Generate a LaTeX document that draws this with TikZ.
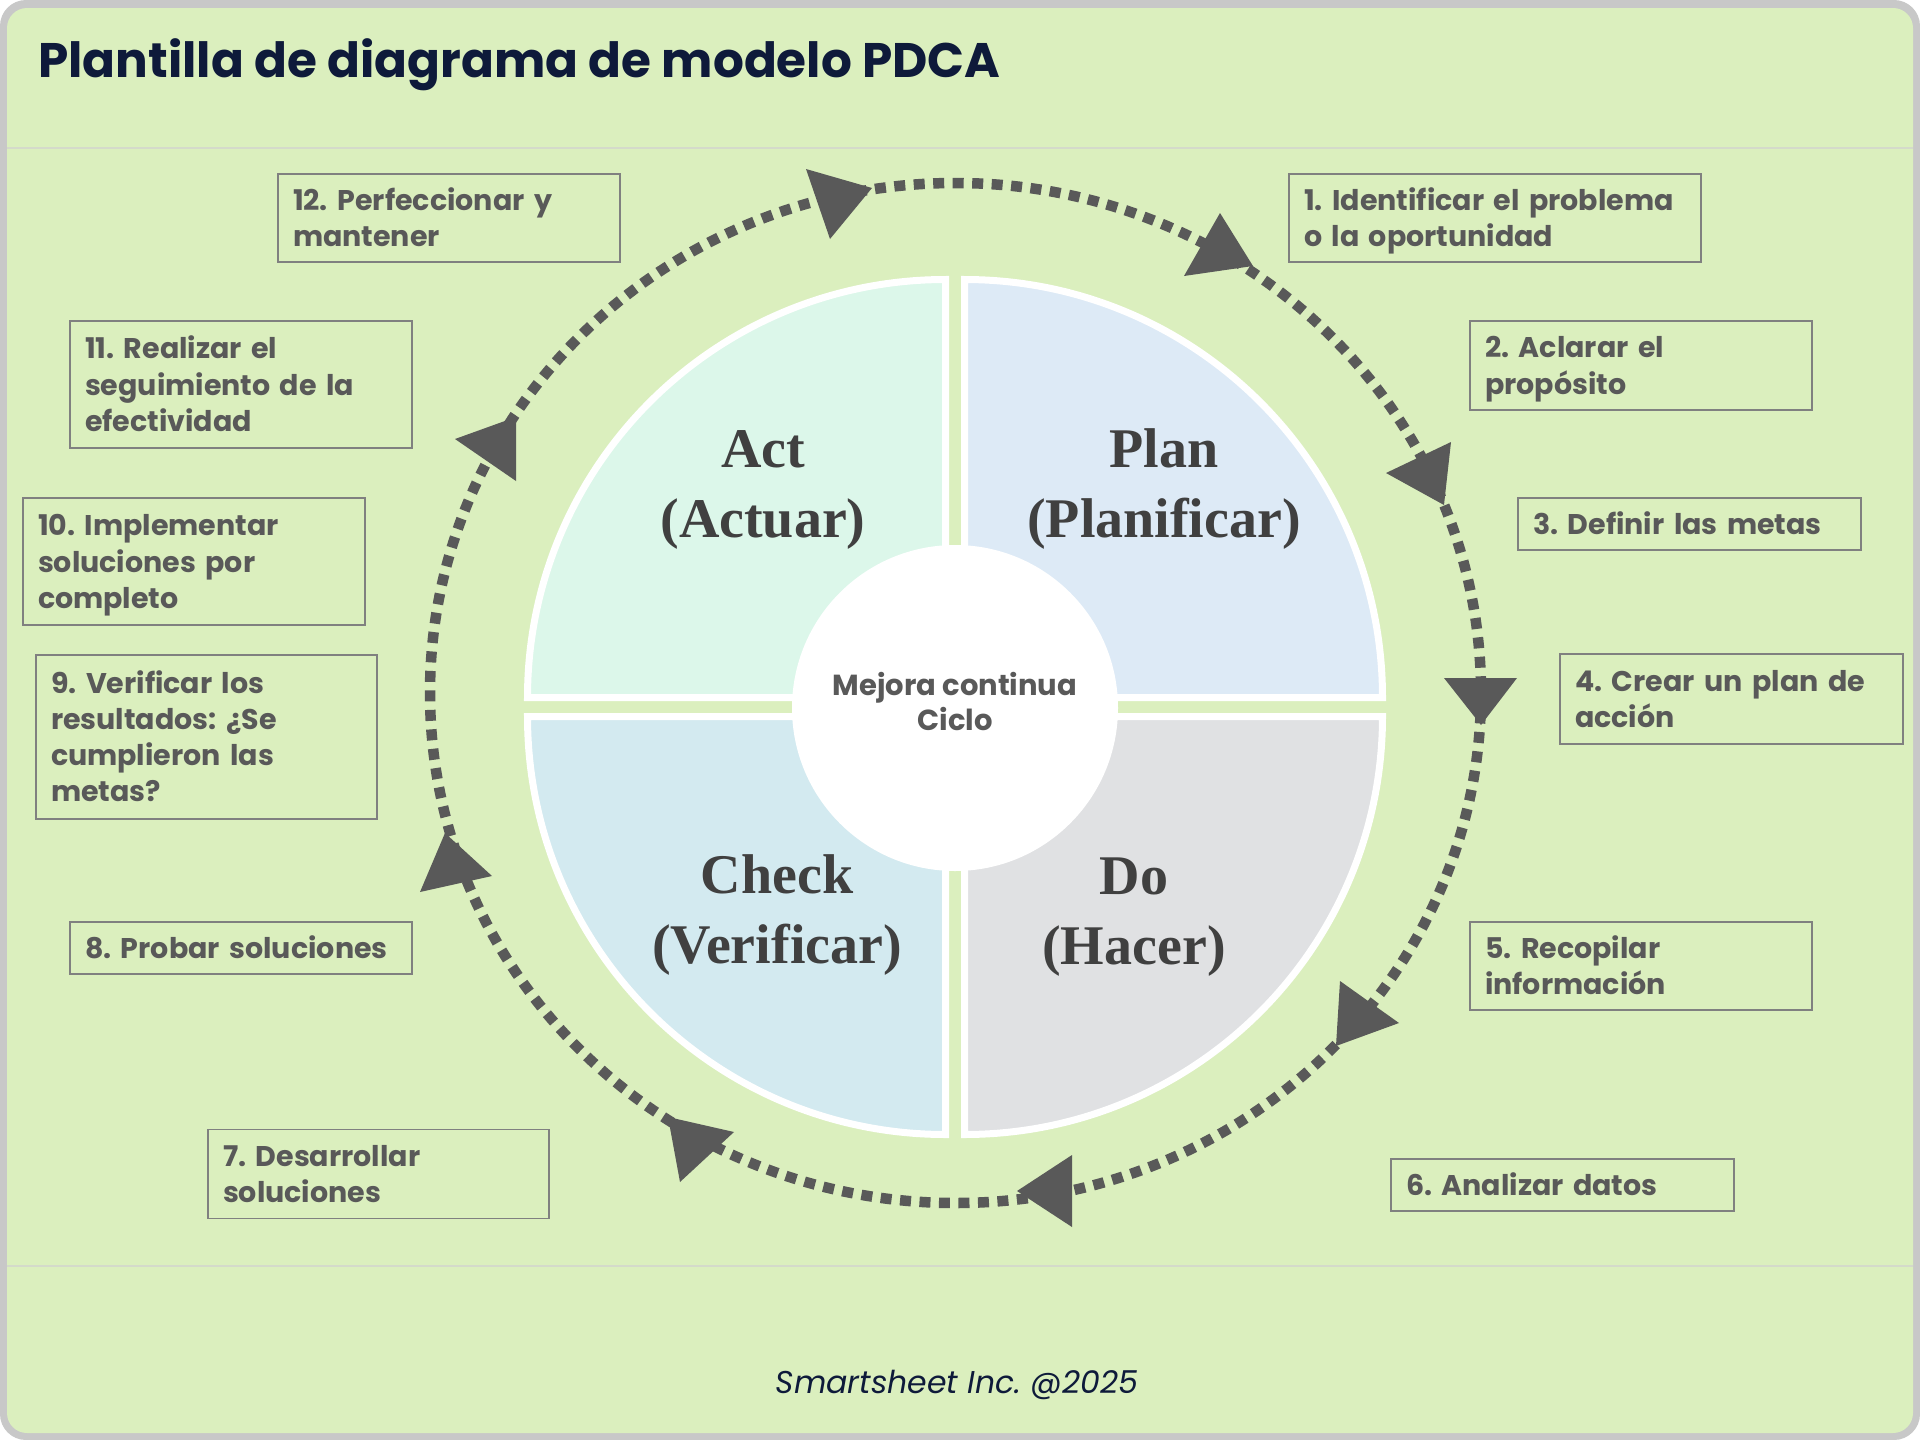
\documentclass[tikz,border=0pt]{standalone}
\usepackage{fontspec}
\setmainfont{Poppins}
\newfontfamily\serifbf{Liberation Serif}
\definecolor{bggreen}{RGB}{219,239,190}
\definecolor{framegray}{RGB}{200,200,200}
\definecolor{sepline}{RGB}{212,218,202}
\definecolor{navy}{RGB}{14,26,58}
\definecolor{txtgray}{RGB}{89,89,89}
\definecolor{boxline}{RGB}{128,128,128}
\definecolor{qact}{RGB}{220,247,234}
\definecolor{qplan}{RGB}{221,234,246}
\definecolor{qcheck}{RGB}{211,234,240}
\definecolor{qdo}{RGB}{224,225,227}
\definecolor{labelgray}{RGB}{64,64,64}
\definecolor{arrowgray}{RGB}{89,89,89}
\frenchspacing
\tikzset{
  pbox/.style={draw=boxline, line width=1.8pt, inner xsep=15pt, inner ysep=0pt,
    align=left, text=txtgray, font=\fontsize{28.5}{36.3}\selectfont\bfseries,
    execute at begin node={\rule{0pt}{29pt}},
    execute at end node={\rule[-8pt]{0pt}{8pt}}},
  quad/.style={draw=white, line width=7pt},
  qlabel/.style={align=center, text=labelgray, inner sep=0pt,
    font=\fontsize{56}{70}\selectfont\serifbf\bfseries},
  ringdots/.style={draw=arrowgray, line width=10.5pt, dash pattern=on 11pt off 8.5pt},
  tri/.style={fill=arrowgray}
}
\begin{document}
\begin{tikzpicture}[x=1pt,y=1pt,yscale=-1]
\useasboundingbox (0,0) rectangle (1920,1440);
\fill[white] (0,0) rectangle (1920,1440);
\fill[framegray, rounded corners=26pt] (0,0) rectangle (1920,1440);
\fill[bggreen, rounded corners=20pt] (7,8) rectangle (1913,1433);
\draw[sepline, line width=2pt] (7,148) -- (1913,148);
\draw[sepline, line width=2pt] (7,1266) -- (1913,1266);

% title
\node[anchor=base west, inner sep=0pt, text=navy, font=\fontsize{48.5}{58}\selectfont\bfseries] (title) at (38,77) {Plantilla de diagrama de modelo PDCA};

% quadrants
\path[quad, fill=qplan] (964.5,697.5) -- (1382.5,697.5) arc[start angle=0, end angle=-90, radius=418] -- cycle;
\path[quad, fill=qact] (945.5,697.5) -- (945.5,279.5) arc[start angle=-90, end angle=-180, radius=418] -- cycle;
\path[quad, fill=qcheck] (945.5,716.5) -- (527.5,716.5) arc[start angle=180, end angle=90, radius=418] -- cycle;
\path[quad, fill=qdo] (964.5,716.5) -- (964.5,1134.5) arc[start angle=90, end angle=0, radius=418] -- cycle;
\fill[white] (955,708) circle[radius=163];

% quadrant labels (anchor = baseline of last line)
\node[qlabel, anchor=base] (act) at (763,537) {Act\\(Actuar)};
\node[qlabel, anchor=base] (plan) at (1164,537) {Plan\\(Planificar)};
\node[qlabel, anchor=base] (check) at (777,963) {Check\\(Verificar)};
\node[qlabel, anchor=base] (do) at (1134,964) {Do\\(Hacer)};
\node[anchor=base, align=center, inner sep=0pt, text=txtgray, font=\fontsize{29}{35}\selectfont\bfseries] (centre) at (955,730) {Mejora continua\\Ciclo};

% dotted ring
\draw[ringdots] (955.5,693) ellipse[x radius=525.5, y radius=510];

% arrowheads
\fill[tri] (806,169) -- (830,239) -- (872,188) -- cycle;
\fill[tri] (1220,213) -- (1184,276) -- (1253,266) -- cycle;
\fill[tri] (1451,442) -- (1386,473) -- (1444,505) -- cycle;
\fill[tri] (1444,678) -- (1517,678) -- (1481,725) -- cycle;
\fill[tri] (1340,981) -- (1399,1023) -- (1336,1046) -- cycle;
\fill[tri] (1072,1155) -- (1017,1191) -- (1072,1227) -- cycle;
\fill[tri] (668,1117) -- (734,1132) -- (680,1182) -- cycle;
\fill[tri] (445,833) -- (492,876) -- (420,892) -- cycle;
\fill[tri] (516,417) -- (455,439) -- (516,481) -- cycle;

% step boxes
\node[pbox, minimum width=412pt, minimum height=88pt, text width=382pt] (s1) at (1495,218) {1. Identificar el problema\\o la oportunidad};
\node[pbox, minimum width=342pt, minimum height=89pt, text width=312pt] (s2) at (1641,365.5) {2. Aclarar el\\propósito};
\node[pbox, minimum width=343pt, minimum height=52pt, text width=313pt] (s3) at (1689.5,524) {3. Definir las metas};
\node[pbox, minimum width=343pt, minimum height=90pt, text width=313pt] (s4) at (1731.5,699) {4. Crear un plan de\\acción};
\node[pbox, minimum width=342pt, minimum height=88pt, text width=312pt] (s5) at (1641,966) {5. Recopilar\\información};
\node[pbox, minimum width=343pt, minimum height=52pt, text width=313pt] (s6) at (1562.5,1185) {6. Analizar datos};
\node[pbox, minimum width=341pt, minimum height=89pt, text width=311pt] (s7) at (378.5,1174) {7. Desarrollar\\soluciones};
\node[pbox, minimum width=342pt, minimum height=52pt, text width=312pt] (s8) at (241,948) {8. Probar soluciones};
\node[pbox, minimum width=341pt, minimum height=164pt, text width=311pt] (s9) at (206.5,737) {9. Verificar los\\resultados: ¿Se\\cumplieron las\\metas?};
\node[pbox, minimum width=342pt, minimum height=127pt, text width=312pt] (s10) at (194,561.5) {10. Implementar\\soluciones por\\completo};
\node[pbox, minimum width=342pt, minimum height=127pt, text width=312pt] (s11) at (241,384.5) {11. Realizar el\\seguimiento de la\\efectividad};
\node[pbox, minimum width=342pt, minimum height=88pt, text width=312pt] (s12) at (449,218) {12. Perfeccionar y\\mantener};

% footer
\node[anchor=base, inner sep=0pt, text=navy, font=\fontsize{31.5}{40}\selectfont\itshape] (footer) at (957,1393) {Smartsheet Inc. @2025};
\end{tikzpicture}
\end{document}
